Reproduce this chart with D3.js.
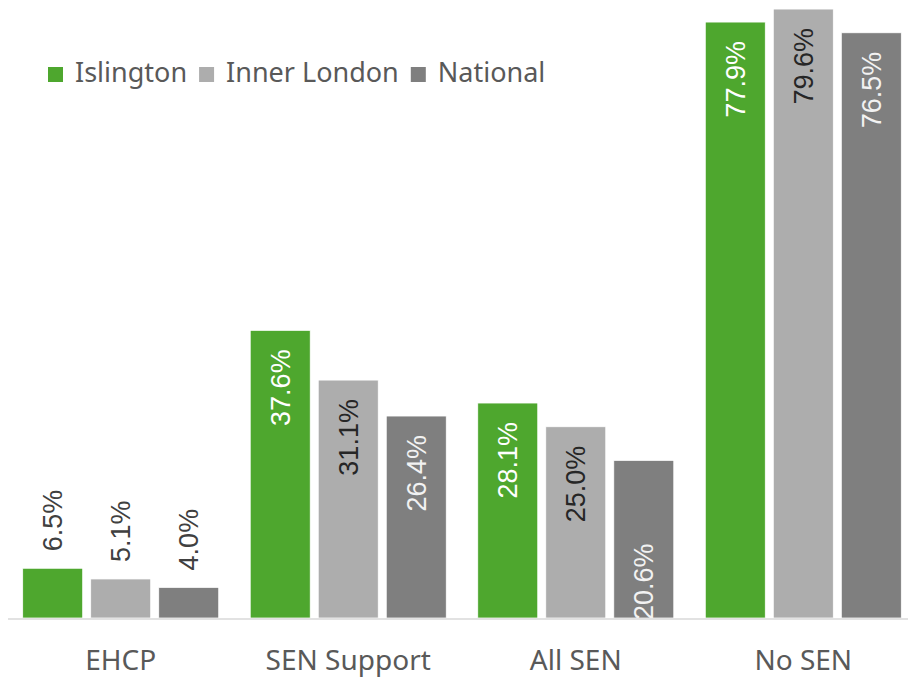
<!DOCTYPE html>
<html>
<head>
<meta charset="utf-8">
<script src="https://cdn.jsdelivr.net/npm/d3@7"></script>
<style>
  body { margin: 0; background: #fff; }
  svg { display: block; }
</style>
</head>
<body>
<svg id="chart" width="908" height="679"></svg>
<script>
// chart values
const categories = ["EHCP", "SEN Support", "All SEN", "No SEN"];
const seriesNames = ["Islington", "Inner London", "National"];
const islington = [6.5, 37.6, 28.1, 77.9];
const innerLondon = [5.1, 31.1, 25.0, 79.6];
const national = [4.0, 26.4, 20.6, 76.5];

// where each label sits (Excel picked these)
const labelPlacement = [
    ["outside", "outside", "outside"],
    ["inside", "inside", "inside"],
    ["inside", "inside", "base"],
    ["inside", "inside", "inside"]
];

const colors = ["#4ea72e", "#adadad", "#7f7f7f"];
const labelInside = ["#ffffff", "#262626", "#f2f2f2"];

const series = [islington, innerLondon, national];

let svg = d3.select("#chart");
const baseY = 618;

let x0 = d3.scaleBand()
    .domain(categories)
    .range([7, 917])
    .paddingInner(0.1385)
    .paddingOuter(0.069);

let x1 = d3.scaleBand()
    .domain(d3.range(seriesNames.length))
    .range([0, x0.bandwidth()])
    .paddingInner(0.118)
    .paddingOuter(0);

let y = d3.scaleLinear()
    .domain([0, 80])
    .range([baseY, 6]);

svg.append("defs").append("clipPath").attr("id", "plotclip")
    .append("rect").attr("x", 0).attr("y", 0).attr("width", 908).attr("height", baseY);

let groups = svg.selectAll("g.cat")
    .data(categories)
    .enter()
    .append("g")
    .attr("class", "cat")
    .attr("transform", d => "translate(" + x0(d) + ",0)");

groups.selectAll("rect")
    .data((d, i) => series.map((s, j) => ({ v: s[i], j: j, i: i })))
    .enter()
    .append("rect")
    .attr("x", d => x1(d.j))
    .attr("y", d => y(d.v))
    .attr("width", x1.bandwidth())
    .attr("height", d => baseY - y(d.v))
    .attr("fill", d => colors[d.j])
    .attr("stroke", "#ffffff")
    .attr("stroke-width", 0.75);

// axis line
svg.append("line")
    .attr("x1", 8).attr("x2", 908)
    .attr("y1", baseY + 1).attr("y2", baseY + 1)
    .attr("stroke", "#d9d9d9")
    .attr("stroke-width", 1.5);

// value labels
groups.append("g").attr("clip-path", "url(#plotclip)")
    .selectAll("text")
    .data((d, i) => series.map((s, j) => ({ v: s[i], j: j, i: i })))
    .enter()
    .append("text")
    .attr("transform", d => {
        let cx = x1(d.j) + x1.bandwidth() / 2;
        let p = labelPlacement[d.i][d.j];
        let ty = p === "outside" ? y(d.v) - 17 : p === "base" ? baseY + 2 : y(d.v) + 19;
        return "translate(" + cx + "," + ty + ") rotate(-90)";
    })
    .attr("text-anchor", d => labelPlacement[d.i][d.j] === "inside" ? "end" : "start")
    .attr("dy", "0.35em")
    .attr("font-family", "Liberation Sans, Arial, sans-serif")
    .attr("font-size", 27)
    .attr("fill", d => labelPlacement[d.i][d.j] === "outside" ? "#404040" : labelInside[d.j])
    .text(d => d.v.toFixed(1) + "%");

// category labels
svg.selectAll("text.catlabel")
    .data(categories)
    .enter()
    .append("text")
    .attr("class", "catlabel")
    .attr("x", d => x0(d) + x0.bandwidth() / 2)
    .attr("y", 670)
    .attr("text-anchor", "middle")
    .attr("font-family", "Noto Sans, sans-serif")
    .attr("font-size", 28)
    .attr("fill", "#595959")
    .text(d => d);

// legend
let legend = svg.append("g").attr("transform", "translate(48,0)");
let lx = 0;
seriesNames.forEach((name, j) => {
    let item = legend.append("g").attr("transform", "translate(" + lx + ",0)");
    item.append("rect")
        .attr("x", 0).attr("y", 67)
        .attr("width", 15).attr("height", 15)
        .attr("fill", colors[j]);
    let t = item.append("text")
        .attr("x", 27)
        .attr("y", 82)
        .attr("font-family", "Noto Sans, sans-serif")
        .attr("font-size", 27)
        .attr("fill", "#595959")
        .text(name);
    lx += 27 + t.node().getComputedTextLength() + 12;
});
</script>
</body>
</html>
